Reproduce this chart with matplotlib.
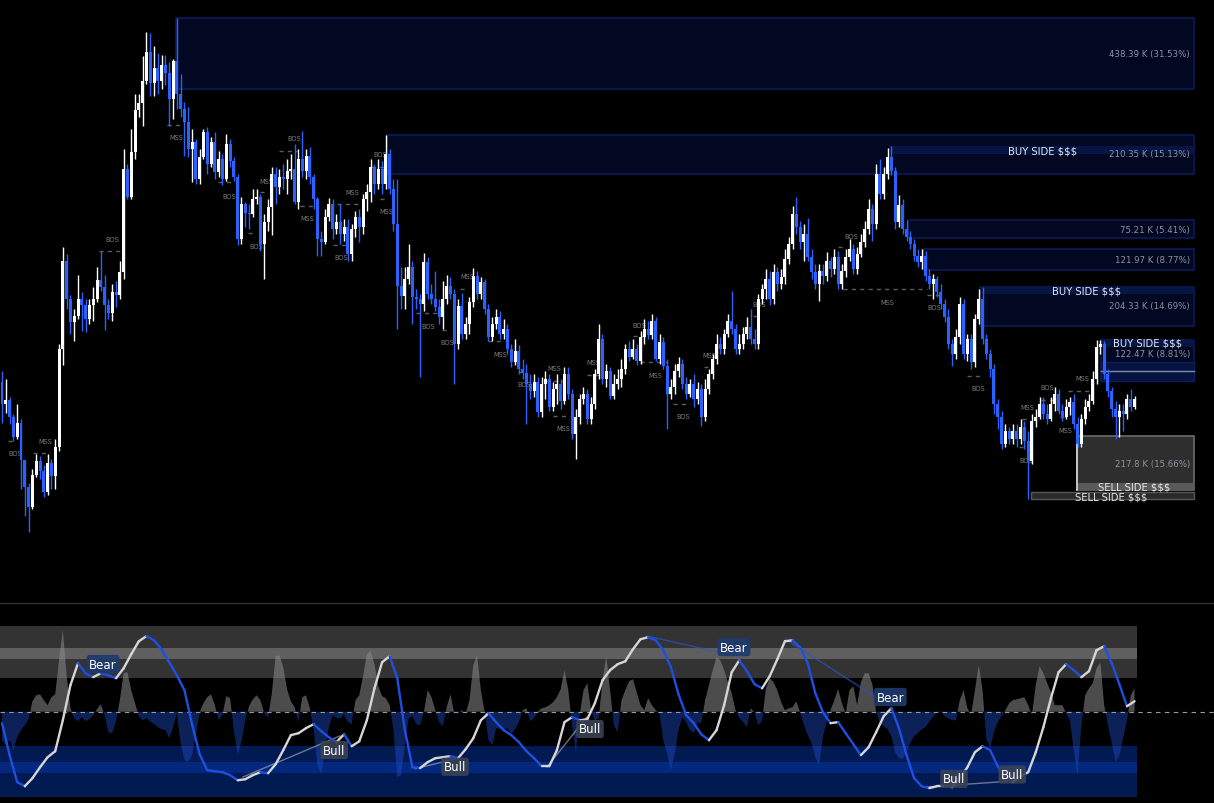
import matplotlib
matplotlib.use("Agg")
import matplotlib.pyplot as plt
from matplotlib.patches import Rectangle
from matplotlib.collections import LineCollection
from matplotlib.lines import Line2D
import numpy as np

# ---- candles (arbitrary price units), one entry per bar ----
first_open = 41.7
close_px = [
    39.5, 39.9, 38.2, 36.2, 37.6, 33.9, 31.2, 29.2, 32.4, 33.8,
    32.8, 30.7, 33.6, 32.3, 35.2, 45.0, 53.8, 50.0, 47.7, 48.3,
    50.0, 49.4, 48.0, 49.4, 50.0, 51.9, 51.2, 49.4, 48.6, 50.7,
    50.4, 52.7, 63.0, 60.2, 64.7, 68.9, 69.6, 71.8, 74.7, 71.6,
    73.1, 71.8, 73.4, 72.6, 70.0, 73.8, 70.5, 69.0, 67.7, 65.0,
    65.7, 62.0, 64.2, 66.7, 63.5, 65.7, 62.7, 64.0, 62.0, 65.5,
    63.8, 62.2, 56.0, 59.5, 58.6, 58.5, 60.0, 60.2, 55.5, 57.7,
    59.2, 62.5, 61.2, 62.2, 62.0, 62.8, 63.0, 59.7, 64.0, 62.8,
    64.3, 62.2, 60.0, 56.0, 55.7, 58.2, 59.5, 57.0, 57.7, 56.5,
    57.2, 54.5, 57.0, 58.2, 57.2, 60.0, 60.7, 63.2, 61.5, 63.0,
    61.5, 64.5, 61.0, 57.5, 51.3, 50.3, 52.0, 53.2, 50.2, 50.0,
    49.5, 53.7, 50.5, 50.0, 49.2, 48.2, 50.0, 51.3, 50.5, 45.5,
    49.3, 46.5, 47.5, 49.7, 52.3, 50.5, 51.7, 49.0, 46.2, 47.5,
    48.2, 46.5, 47.0, 45.0, 43.7, 44.8, 43.0, 42.6, 41.5, 40.8,
    41.7, 38.7, 41.5, 42.0, 39.2, 41.0, 41.5, 39.8, 42.5, 40.5,
    36.5, 38.2, 40.0, 40.5, 38.0, 39.5, 42.5, 46.0, 42.0, 42.8,
    40.3, 41.5, 42.0, 43.0, 45.0, 44.2, 45.0, 43.8, 46.2, 47.0,
    46.4, 47.8, 44.0, 45.7, 43.3, 40.5, 41.2, 42.8, 43.5, 41.5,
    40.5, 41.5, 40.0, 41.0, 38.2, 41.0, 42.5, 44.0, 45.5, 45.0,
    46.5, 47.8, 47.0, 45.0, 45.5, 46.5, 47.2, 46.0, 45.5, 50.0,
    51.0, 52.0, 50.0, 52.7, 51.5, 52.2, 54.0, 55.5, 58.5, 57.2,
    55.7, 56.5, 54.2, 52.7, 51.5, 52.8, 52.3, 53.8, 53.0, 54.2,
    51.5, 52.8, 54.2, 55.0, 53.0, 54.5, 55.7, 57.0, 59.0, 57.5,
    62.5, 60.5, 62.5, 64.2, 62.8, 57.7, 59.4, 57.0, 56.2, 55.5,
    54.3, 53.7, 54.3, 52.3, 51.5, 52.0, 50.7, 49.5, 48.2, 45.5,
    44.5, 46.2, 49.5, 44.5, 46.0, 43.7, 48.0, 50.0, 46.0, 44.5,
    43.0, 39.5, 38.2, 35.5, 36.8, 36.0, 36.8, 36.0, 37.2, 35.8,
    33.8, 37.8, 38.2, 39.5, 38.5, 38.0, 39.5, 40.5, 38.8, 38.2,
    39.2, 39.7, 37.5, 35.5, 38.0, 39.2, 39.8, 42.0, 45.2, 45.5,
    42.5, 40.8, 39.0, 38.2, 38.8, 38.5, 40.0, 39.2, 40.0,
]
high_px = [
    42.8, 42.0, 40.2, 38.5, 39.5, 38.0, 33.0, 31.6, 33.0, 34.5,
    34.3, 33.4, 34.5, 34.0, 36.0, 45.5, 55.2, 54.5, 50.4, 49.0,
    52.4, 50.7, 50.0, 50.0, 51.2, 53.2, 54.8, 52.4, 50.0, 51.5,
    51.8, 53.8, 65.0, 63.5, 67.0, 70.5, 70.5, 74.3, 76.7, 76.6,
    75.3, 74.6, 74.4, 74.4, 73.7, 74.0, 78.1, 72.5, 69.7, 69.2,
    67.0, 66.0, 65.0, 67.0, 67.2, 66.2, 66.7, 64.8, 64.5, 66.5,
    66.0, 64.2, 62.5, 60.2, 59.7, 59.5, 61.0, 61.0, 60.5, 58.5,
    60.0, 63.2, 63.2, 63.0, 63.5, 64.0, 64.5, 65.5, 65.0, 66.8,
    65.0, 65.2, 62.5, 60.2, 56.8, 59.0, 60.1, 60.0, 58.5, 59.5,
    58.0, 58.0, 57.5, 58.8, 59.0, 60.5, 61.5, 64.0, 63.5, 64.0,
    63.8, 66.4, 65.0, 62.0, 62.0, 53.2, 53.2, 55.5, 53.8, 51.0,
    50.5, 54.6, 54.2, 51.5, 52.8, 50.0, 51.8, 52.4, 52.2, 51.0,
    50.0, 50.6, 48.2, 50.2, 53.1, 52.8, 52.2, 52.0, 49.5, 48.2,
    49.0, 48.8, 48.0, 47.5, 45.5, 46.0, 45.4, 44.0, 43.5, 42.5,
    42.5, 42.2, 42.2, 42.8, 42.5, 41.7, 42.5, 42.0, 43.2, 43.2,
    41.0, 39.0, 40.5, 41.2, 41.0, 40.2, 43.0, 47.5, 46.5, 43.5,
    43.2, 42.5, 43.0, 44.0, 45.5, 45.8, 46.0, 45.5, 46.8, 48.0,
    47.8, 48.5, 48.2, 46.5, 46.2, 44.0, 42.0, 43.5, 44.2, 44.0,
    42.2, 42.0, 42.5, 41.7, 41.5, 42.0, 43.0, 44.5, 46.5, 46.2,
    47.0, 48.5, 50.8, 47.5, 46.5, 47.2, 48.2, 49.0, 47.0, 50.5,
    51.5, 53.0, 52.8, 53.5, 53.2, 53.0, 55.0, 56.2, 59.3, 60.2,
    57.8, 57.5, 58.1, 55.0, 53.5, 53.5, 53.5, 54.7, 54.2, 55.0,
    54.8, 53.5, 55.0, 56.0, 55.5, 55.2, 56.5, 57.8, 60.0, 59.5,
    63.5, 64.0, 63.2, 65.1, 65.3, 63.2, 60.4, 60.0, 57.9, 56.8,
    56.0, 55.0, 55.0, 54.8, 53.0, 52.5, 52.3, 51.5, 50.0, 49.0,
    46.0, 47.0, 50.2, 50.0, 46.5, 46.5, 48.5, 51.0, 51.2, 46.5,
    45.0, 43.5, 40.0, 38.8, 37.5, 37.2, 37.5, 37.5, 38.0, 37.8,
    36.8, 38.5, 39.0, 40.2, 40.2, 39.5, 40.2, 41.2, 41.0, 39.5,
    40.0, 40.2, 40.5, 38.2, 38.5, 40.0, 40.5, 42.8, 45.9, 45.9,
    45.8, 43.0, 41.2, 39.8, 39.5, 39.5, 40.5, 41.0, 40.3,
]
low_px = [
    37.6, 38.6, 37.5, 35.8, 36.0, 31.0, 28.3, 26.7, 29.0, 32.2,
    32.0, 30.2, 30.4, 31.0, 31.0, 34.8, 43.4, 49.0, 46.5, 45.8,
    48.0, 46.8, 46.7, 47.5, 47.8, 49.7, 50.8, 46.9, 48.0, 47.8,
    49.2, 50.0, 52.0, 60.0, 60.0, 64.0, 68.2, 67.3, 71.5, 70.3,
    70.3, 70.5, 71.0, 71.4, 67.3, 68.0, 69.0, 68.2, 64.3, 64.2,
    61.7, 61.5, 61.5, 64.0, 62.5, 63.2, 62.0, 62.2, 61.4, 61.8,
    63.2, 61.8, 55.4, 55.5, 57.2, 57.0, 58.2, 59.5, 54.8, 52.0,
    56.8, 56.4, 59.5, 60.5, 61.0, 60.5, 62.0, 59.5, 59.0, 62.2,
    62.0, 61.5, 59.0, 54.3, 54.3, 55.5, 57.8, 56.0, 56.5, 55.5,
    55.8, 53.8, 53.8, 56.2, 55.7, 56.5, 58.8, 59.7, 60.5, 61.0,
    60.5, 61.0, 60.5, 56.8, 47.0, 49.0, 49.0, 51.5, 47.5, 49.0,
    42.2, 48.8, 50.0, 49.5, 48.8, 47.5, 47.0, 49.5, 50.0, 41.5,
    45.0, 46.0, 46.0, 46.5, 49.2, 50.0, 50.0, 48.5, 45.8, 45.8,
    47.0, 46.0, 46.0, 44.5, 43.2, 43.4, 42.5, 42.0, 37.5, 40.0,
    40.2, 38.2, 38.2, 40.0, 38.8, 38.8, 39.5, 39.0, 39.5, 40.0,
    36.0, 34.0, 37.5, 39.5, 37.5, 37.5, 39.0, 42.0, 41.5, 41.2,
    40.0, 40.0, 41.0, 41.2, 42.5, 43.8, 44.0, 43.4, 43.5, 45.5,
    46.0, 46.0, 43.8, 43.5, 43.0, 37.0, 40.0, 40.5, 42.2, 41.0,
    40.0, 40.2, 39.2, 39.5, 37.3, 37.8, 40.5, 42.0, 43.5, 44.5,
    44.5, 46.2, 46.5, 44.5, 44.5, 45.0, 46.0, 45.5, 45.0, 45.0,
    49.5, 50.0, 49.4, 49.5, 50.8, 51.0, 51.5, 53.5, 55.0, 56.5,
    55.0, 53.8, 53.8, 52.0, 51.0, 49.8, 51.5, 51.8, 52.2, 52.5,
    51.0, 51.0, 52.2, 53.8, 52.5, 52.5, 54.2, 55.2, 56.5, 55.8,
    57.0, 60.0, 60.0, 62.0, 62.4, 57.0, 57.2, 56.5, 55.8, 55.0,
    53.8, 53.2, 53.0, 51.8, 51.0, 50.0, 50.2, 49.0, 47.7, 45.0,
    43.3, 44.0, 45.5, 44.0, 43.8, 43.0, 43.2, 47.5, 45.5, 44.0,
    42.2, 38.5, 37.0, 35.0, 35.2, 35.5, 35.5, 35.2, 35.5, 35.0,
    30.0, 33.5, 37.2, 38.0, 38.0, 37.5, 37.8, 38.8, 38.5, 37.8,
    38.0, 38.4, 37.0, 35.2, 35.2, 37.5, 38.8, 39.5, 41.5, 44.5,
    42.0, 40.2, 38.2, 36.0, 36.2, 36.8, 38.0, 38.8, 39.0,
]

# ---- liquidity zones ----
box_i0 = [45.8, 101.3, 238.4, 242.4, 257.4, 289.2]
box_top = [78.1, 66.4, 57.9, 55.0, 51.2, 45.9]
box_bot = [71.0, 62.5, 56.1, 52.9, 47.3, 41.8]
box_amt = ["438.39 K (31.53%)", "210.35 K (15.13%)", "75.21 K (5.41%)",
           "121.97 K (8.77%)", "204.33 K (14.69%)", "122.47 K (8.81%)"]
box_amt_px = [74.6, 64.5, 57.0, 54.0, 49.3, 44.6]
box_end = 313.7
amt_x = 312.6

bs_i0 = [233.7, 257.4, 289.2]
bs_top = [65.3, 51.2, 45.9]
bs_bot = [64.5, 50.5, 45.2]
bs_txt_i = [273.7, 285.3, 301.3]
bs_txt_px = [64.9, 50.8, 45.7]

ss_i0 = [282.9, 270.8]
ss_top = [36.3, 30.7]
ss_bot = [30.9, 30.0]
ss_txt_i = [297.9, 291.8]
ss_txt_px = [31.2, 30.3]
ss_amt = "217.8 K (15.66%)"
ss_amt_px = 33.6

# ---- structure labels ----
st_txt = ["MSS", "BOS", "MSS", "BOS", "BOS", "BOS", "MSS", "BOS", "BOS", "MSS",
          "MSS", "MSS", "BOS", "MSS", "BOS", "BOS", "MSS", "BOS", "MSS", "MSS",
          "MSS", "BOS", "MSS", "MSS", "BOS", "BOS", "BOS", "MSS", "BOS", "BOS",
          "BOS", "MSS", "BOS", "MSS", "MSS"]
st_i = [45.8, 59.7, 69.5, 66.8, 76.8, 28.9, 11.3, 3.4, 99.5, 92.1,
        101.0, 80.3, 89.2, 122.4, 112.1, 117.1, 131.0, 137.4, 145.3, 155.5,
        147.6, 167.6, 171.8, 186.1, 179.2, 199.2, 223.4, 232.9, 245.3, 256.8,
        269.5, 269.7, 275.0, 279.7, 284.2]
st_px = [66.2, 60.3, 61.8, 55.3, 66.1, 56.0, 35.8, 34.6, 64.5, 60.7,
         58.8, 58.1, 54.2, 52.3, 47.3, 45.7, 44.5, 41.5, 43.1, 43.7,
         37.1, 47.4, 42.4, 44.4, 38.3, 49.5, 56.3, 49.7, 49.2, 41.1,
         33.9, 39.2, 41.2, 36.9, 42.1]
st_l0 = [43.4, 56.8, 67.9, 64.7, 72.9, 25.5, 8.2, 1.6, 97.1, 88.2,
         99.5, 78.4, 87.1, 120.5, 109.0, 115.8, 127.9, 135.8, 142.9, 153.9,
         145.0, 166.1, 167.9, 184.7, 176.6, 197.6, 220.0, 221.3, 243.4, 253.9,
         267.6, 268.4, 273.4, 278.4, 280.5]
st_l1 = [47.6, 61.3, 69.2, 66.6, 77.6, 31.8, 12.6, 2.9, 101.3, 95.0,
         101.3, 81.8, 90.8, 122.4, 115.3, 117.1, 132.4, 137.1, 147.6, 157.4,
         149.5, 169.2, 175.0, 185.8, 181.1, 198.9, 221.8, 243.4, 247.4, 258.2,
         268.7, 269.7, 277.6, 279.7, 287.1]
st_lpx = [67.4, 61.7, 60.7, 56.6, 64.8, 54.8, 34.6, 35.8, 63.2, 59.5,
          60.0, 59.3, 55.4, 51.0, 48.6, 46.9, 45.8, 42.7, 41.8, 42.4,
          38.3, 46.3, 43.7, 43.2, 39.5, 48.3, 55.2, 51.0, 50.4, 42.3,
          35.2, 38.0, 39.9, 38.2, 40.8]

# ---- oscillator ----
osc_line = [
    43.3, 24.6, 8.8, 6.4, 11.1, 17.5, 23.4, 26.9, 45.0, 65.5,
    78.4, 72.5, 70.2, 72.5, 71.3, 69.6, 75.4, 83.6, 91.2, 94.2,
    91.8, 86.5, 78.9, 71.3, 62.6, 42.7, 25.1, 15.8, 15.2, 14.6,
    12.9, 9.9, 10.5, 12.9, 14.6, 14.0, 19.3, 27.5, 36.3, 37.4,
    40.4, 42.7, 38.6, 35.1, 32.2, 36.8, 29.8, 32.7, 45.0, 63.7,
    78.9, 82.5, 69.6, 39.2, 17.5, 17.0, 20.5, 22.8, 23.4, 24.0,
    22.8, 28.1, 34.5, 45.0, 49.1, 43.9, 39.2, 36.3, 32.2, 26.9,
    22.8, 18.1, 18.1, 27.5, 43.9, 46.8, 45.0, 45.6, 55.0, 68.4,
    74.3, 77.8, 79.5, 86.5, 92.4, 93.6, 91.8, 86.0, 76.0, 60.2,
    48.0, 43.3, 36.8, 33.3, 39.2, 53.8, 73.1, 80.1, 73.7, 66.1,
    63.7, 70.8, 80.7, 91.2, 91.8, 87.7, 78.4, 60.8, 49.7, 43.3,
    43.9, 37.4, 31.0, 24.6, 29.2, 38.0, 47.4, 52.0, 40.4, 24.6,
    11.1, 6.4, 5.3, 6.4, 6.4, 5.8, 11.1, 17.5, 26.3, 29.8,
    27.5, 18.1, 10.5, 8.8, 12.3, 14.6, 26.3, 40.9, 57.9, 73.1,
    77.8, 74.3, 70.2, 73.7, 86.0, 88.3, 78.4, 66.1, 53.2, 56.1,
]
osc_area = [
    33.3, 30.4, 33.3, 27.5, 35.1, 39.2, 42.1, 45.6, 56.1, 59.6,
    60.2, 56.7, 53.8, 58.5, 60.2, 80.1, 97.7, 71.3, 52.0, 46.2,
    44.4, 46.8, 44.4, 45.6, 48.0, 51.5, 54.4, 48.0, 38.0, 37.4,
    44.4, 56.7, 72.5, 73.1, 62.6, 55.0, 47.4, 45.0, 46.2, 44.4,
    42.7, 40.9, 39.8, 39.2, 34.5, 40.9, 49.1, 31.6, 21.6, 20.5,
    24.6, 36.3, 49.7, 55.0, 58.5, 60.2, 53.8, 45.0, 48.0, 59.1,
    57.9, 39.2, 25.1, 32.2, 45.0, 53.2, 57.3, 59.6, 56.7, 49.1,
    46.2, 60.8, 82.5, 83.0, 76.0, 63.2, 56.1, 52.6, 43.9, 58.5,
    59.6, 52.0, 39.2, 18.7, 13.5, 27.5, 40.9, 48.0, 46.2, 46.2,
    48.5, 43.9, 42.7, 56.7, 59.6, 70.8, 83.6, 85.4, 77.8, 64.9,
    59.1, 57.9, 53.8, 39.2, 11.7, 12.9, 30.4, 46.2, 47.4, 42.7,
    42.1, 49.7, 62.6, 58.5, 50.9, 43.9, 41.5, 52.6, 60.2, 49.1,
    49.1, 50.9, 49.1, 56.7, 77.2, 83.0, 62.6, 49.7, 33.3, 30.4,
    40.4, 39.8, 39.8, 40.4, 36.8, 39.8, 43.9, 50.9, 52.0, 44.4,
    46.2, 50.3, 52.0, 52.6, 53.8, 55.6, 58.5, 63.2, 74.3, 62.6,
    42.1, 26.3, 48.0, 62.6, 66.7, 50.9, 45.0, 46.2, 68.4, 82.5,
    62.6, 42.1, 38.0, 56.7, 62.6, 67.8, 69.0, 61.4, 53.8, 50.9,
    57.9, 53.8, 50.9, 49.1, 33.3, 25.7, 15.8, 25.7, 39.2, 46.8,
    43.9, 39.2, 37.4, 43.9, 43.3, 56.7, 65.5, 74.3, 81.9, 80.1,
    74.3, 67.3, 60.8, 50.9, 46.2, 43.9, 40.9, 52.0, 49.7, 42.1,
    45.0, 63.7, 69.6, 67.3, 62.6, 55.6, 50.9, 52.0, 52.6, 56.1,
    49.7, 42.1, 36.3, 31.6, 23.4, 18.7, 35.1, 43.9, 50.9, 56.7,
    63.2, 55.0, 49.1, 62.6, 64.9, 53.8, 67.3, 72.5, 72.5, 66.1,
    49.7, 43.3, 41.5, 39.8, 35.7, 26.3, 22.8, 22.2, 26.9, 31.6,
    35.7, 37.4, 39.8, 40.9, 44.4, 46.8, 49.7, 50.3, 47.4, 46.2,
    45.0, 45.0, 56.7, 62.6, 52.0, 48.5, 62.6, 77.2, 62.6, 33.9,
    28.7, 38.0, 43.9, 47.4, 50.9, 55.0, 56.7, 57.3, 57.9, 58.5,
    53.8, 48.0, 65.5, 76.6, 72.5, 66.7, 61.4, 53.8, 53.8, 53.8,
    49.1, 45.0, 27.5, 12.9, 42.1, 59.6, 63.7, 66.7, 75.4, 78.9,
    53.8, 42.1, 31.6, 20.5, 24.6, 34.5, 45.0, 59.6, 63.7,
]

div_kind = ["Bull", "Bull", "Bull", "Bear", "Bear", "Bull"]
div_i0 = [63.4, 108.7, 143.4, 169.7, 206.1, 243.4]
div_v0 = [11.8, 16.6, 17.7, 94.3, 92.5, 6.0]
div_i1 = [88.9, 119.2, 153.9, 192.9, 233.2, 266.1]
div_v1 = [35.8, 22.4, 46.9, 82.6, 53.9, 9.5]
tag_txt = ["Bear", "Bull", "Bull", "Bull", "Bear", "Bear", "Bull", "Bull"]
tag_i = [26.6, 87.4, 119.2, 154.7, 192.6, 233.7, 250.5, 265.8]
tag_v = [77.9, 27.6, 17.8, 39.9, 87.8, 58.6, 10.7, 13.3]

WHITE = "#ffffff"
BLUE = "#2962ff"
XL = (-0.53, 318.9)

fig = plt.figure(figsize=(12.14, 8.04), dpi=100, facecolor="black")
ax = fig.add_axes([0, 200 / 804, 1, 604 / 804])
osc = fig.add_axes([0, 0, 1, 199 / 804])
for a in (ax, osc):
    a.set_facecolor("black")
    a.set_xlim(*XL)
    a.set_xticks([])
    a.set_yticks([])
    for s in a.spines.values():
        s.set_visible(False)
ax.set_ylim(19.6, 80)
osc.set_ylim(-3.4, 113.0)
fig.add_artist(Line2D([0, 1], [200 / 804, 200 / 804], color="#2b303b", lw=1))

# liquidity zones
for i0, t, b in zip(box_i0, box_top, box_bot):
    ax.add_patch(Rectangle((i0, b), box_end - i0, t - b, fc="#020722",
                           ec="#0c1d5c", lw=1.1, zorder=1))
for i0, t, b in zip(bs_i0, bs_top, bs_bot):
    ax.add_patch(Rectangle((i0, b), box_end - i0, t - b, fc="#071545",
                           ec="none", zorder=1.5))
ax.add_patch(Rectangle((box_i0[5], 41.8), box_end - box_i0[5], 1.9,
                       fc="#061340", ec="#0c1d5c", lw=1, zorder=1.5))
ax.plot([box_i0[5], box_end], [42.8, 42.8], color="#7d8cb0", lw=1, zorder=1.6)
for txt, p in zip(box_amt, box_amt_px):
    ax.text(amt_x, p, txt, color="#8d93a0", fontsize=6.2, ha="right",
            va="center", zorder=5)
for x, p in zip(bs_txt_i, bs_txt_px):
    ax.text(x, p, "BUY SIDE $$$", color="#e3e8f2", fontsize=7.2,
            ha="center", va="center", zorder=5)

ax.add_patch(Rectangle((ss_i0[0], ss_bot[0]), box_end - ss_i0[0],
                       ss_top[0] - ss_bot[0], fc="#2e2e2e", ec="#6b6b6b",
                       lw=1.2, zorder=1))
ax.add_patch(Rectangle((ss_i0[0], 30.9), box_end - ss_i0[0], 0.7,
                       fc="#5a5a5a", ec="none", zorder=1.5))
ax.plot([ss_i0[0], ss_i0[0]], [ss_bot[0], ss_top[0]], color="#d8d8d8",
        lw=1.2, zorder=1.6)
ax.add_patch(Rectangle((ss_i0[1], ss_bot[1]), box_end - ss_i0[1],
                       ss_top[1] - ss_bot[1], fc="#2a2a2a", ec="#575757",
                       lw=1, zorder=1))
ax.text(amt_x, ss_amt_px, ss_amt, color="#8d93a0", fontsize=6.2,
        ha="right", va="center", zorder=5)
for x, p in zip(ss_txt_i, ss_txt_px):
    ax.text(x, p, "SELL SIDE $$$", color="#e8e8e8", fontsize=7.2,
            ha="center", va="center", zorder=5)

# structure breaks
for txt, xi, p, l0, l1, lp in zip(st_txt, st_i, st_px, st_l0, st_l1, st_lpx):
    ax.plot([l0, l1], [lp, lp], color="#5c5c5c", lw=1, ls=(0, (3, 3)), zorder=2)
    ax.text(xi, p, txt, color="#7c7c7c", fontsize=4.8, ha="center",
            va="center", zorder=2)

# candles
c = np.array(close_px)
o = np.r_[first_open, c[:-1]]
hi = np.maximum(np.array(high_px), np.maximum(o, c))
lo = np.minimum(np.array(low_px), np.minimum(o, c))
idx = np.arange(len(c))
cols = np.where(c >= o, WHITE, BLUE)
ax.vlines(idx, lo, hi, colors=cols, lw=1, zorder=3)
body = np.maximum(np.abs(c - o), 0.15)
ax.bar(idx, body, bottom=np.minimum(o, c), width=0.78, color=cols,
       lw=0, zorder=4)

# oscillator bands
band_end = 298.7
osc.add_patch(Rectangle((XL[0], 70), band_end - XL[0], 30, fc="#333333", ec="none"))
osc.add_patch(Rectangle((XL[0], 80.8), band_end - XL[0], 6.5, fc="#5f5f5f", ec="none"))
osc.add_patch(Rectangle((XL[0], 0), band_end - XL[0], 30, fc="#021a52", ec="none"))
osc.add_patch(Rectangle((XL[0], 14.2), band_end - XL[0], 6.4, fc="#03287d", ec="none"))

area = np.array(osc_area)
ai = np.arange(len(area))
osc.fill_between(ai, area, 50, where=area >= 50, interpolate=True,
                 color="#8c8c8c", alpha=0.55, lw=0, zorder=2)
osc.fill_between(ai, area, 50, where=area <= 50, interpolate=True,
                 color="#1f4fd0", alpha=0.42, lw=0, zorder=2)
osc.axhline(50, color="#9a9a9a", lw=0.8, ls=(0, (4, 4)), zorder=3)

for k, a0, v0, a1, v1 in zip(div_kind, div_i0, div_v0, div_i1, div_v1):
    col = "#9aa0aa" if k == "Bull" else "#2a55c8"
    osc.plot([a0, a1], [v0, v1], color=col, lw=1, alpha=0.7, zorder=4)

ln = np.array(osc_line)
li = np.arange(len(ln)) * 2
pts = np.column_stack([li, ln])
segs = np.stack([pts[:-1], pts[1:]], axis=1)
seg_cols = np.where(np.diff(ln) >= 0, "#d6d6d6", "#1f4fe0")
osc.add_collection(LineCollection(segs, colors=seg_cols, lw=1.7,
                                  capstyle="round", zorder=5))

for t, xi, v in zip(tag_txt, tag_i, tag_v):
    fc = "#1f3a6e" if t == "Bear" else "#3b4252"
    osc.text(xi, v, t, color="white", fontsize=8.5, ha="center", va="center",
             zorder=6, bbox=dict(boxstyle="round,pad=0.22", fc=fc, ec="none",
                                 alpha=0.9))

fig.savefig("out.png", dpi=100, facecolor="black")
